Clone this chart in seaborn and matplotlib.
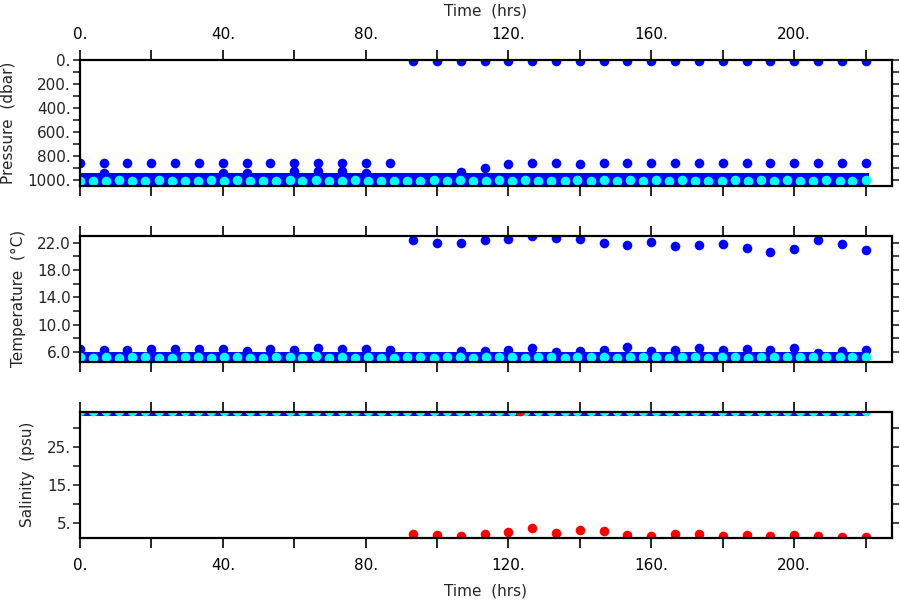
import numpy as np
import matplotlib
matplotlib.use("Agg")
import matplotlib.pyplot as plt
import seaborn as sns

# profile times (hrs), deep point of each cast
prof_t = [0, 6.7, 13.3, 20, 26.7, 33.3, 40, 46.7, 53.3, 60, 66.7, 73.3, 80, 86.7,
          93.3, 100, 106.7, 113.3, 120, 126.7, 133.3, 140, 146.7, 153.3, 160, 166.7,
          173.3, 180, 186.7, 193.3, 200, 206.7, 213.3, 220]
prof_pres = [862, 862, 862, 862, 862, 862, 862, 862, 862, 862, 862, 862, 862, 862,
             np.nan, np.nan, 931, 902, 867, 861, 858, 863, 862, 862, 862, 862,
             862, 862, 862, 862, 862, 862, 862, 862]
prof_temp = [6.4, 6.3, 6.3, 6.4, 6.5, 6.4, 6.5, 6.1, 6.4, 6.3, 6.6, 6.4, 6.5, 6.3,
             np.nan, np.nan, 6.1, 6.2, 6.3, 6.65, 6.0, 6.2, 6.35, 6.7, 6.15, 6.25,
             6.65, 6.3, 6.4, 6.25, 6.65, 5.9, 6.2, 6.25]

# second bump of the deep cluster
bump_t = [6.7, 40, 46.7, 60, 66.7, 73.3, 80]
bump_pres = [945, 945, 945, 925, 925, 925, 943]

# surface samples (second half of the record)
surf_t = [93.3, 100, 106.7, 113.3, 120, 126.7, 133.3, 140, 146.7, 153.3, 160, 166.7,
          173.3, 180, 186.7, 193.3, 200, 206.7, 213.3, 220]
surf_pres = [6, 6, 6, 6, 6, 6, 6, 6, 6, 6, 6, 6, 6, 6, 6, 6, 6, 6, 6, 6]
surf_temp = [22.4, 21.9, 21.9, 22.35, 22.45, 22.9, 22.6, 22.45, 21.95, 21.65, 22.15, 21.45,
             21.65, 21.8, 21.15, 20.65, 21.1, 22.35, 21.85, 20.85]
surf_sal = [2.1, 1.65, 1.4, 2.1, 2.6, 3.6, 2.2, 3.0, 2.7, 1.65, 1.5, 2.0,
            2.0, 1.5, 1.65, 1.4, 1.8, 1.5, 1.3, 1.1]
odd_t = [123.3]
odd_sal = [34.6]

# bottom samples
bot_t = [0, 3.7, 7.3, 11.0, 14.7, 18.3, 22.0, 25.7, 29.3, 33.0, 36.7, 40.3, 44.0, 47.7,
         51.3, 55.0, 58.7, 62.3, 66.0, 69.7, 73.3, 77.0, 80.7, 84.3, 88.0, 91.7, 95.3,
         99.0, 102.7, 106.3, 110.0, 113.7, 117.3, 121.0, 124.7, 128.3, 132.0, 135.7,
         139.3, 143.0, 146.7, 150.3, 154.0, 157.7, 161.3, 165.0, 168.7, 172.3, 176.0,
         179.7, 183.3, 187.0, 190.7, 194.3, 198.0, 201.7, 205.3, 209.0, 212.7, 216.3, 220.0]
bot_pres = [1010, 1007, 1012, 1002, 1010, 1007, 1002, 1005, 1012, 1005, 1002, 1008, 1004,
            1010, 1005, 1007, 1004, 1007, 1002, 1007, 1011, 1002, 1007, 1005, 1005, 1007,
            1010, 1004, 1008, 1003, 1005, 1008, 1003, 1007, 1003, 1009, 1005, 1007, 1003,
            1006, 1004, 1009, 1004, 1007, 1002, 1008, 1003, 1009, 1005, 1007, 1004, 1008,
            1004, 1007, 1002, 1009, 1005, 1003, 1008, 1005, 1004]
bot_temp = [5.25, 5.2, 5.35, 5.15, 5.3, 5.35, 5.2, 5.2, 5.3, 5.25, 5.2, 5.25, 5.25, 5.2,
            5.2, 5.35, 5.3, 5.15, 5.45, 5.15, 5.3, 5.2, 5.3, 5.2, 5.15, 5.35, 5.35, 5.2,
            5.25, 5.3, 5.2, 5.3, 5.25, 5.3, 5.2, 5.35, 5.3, 5.2, 5.3, 5.25, 5.3, 5.2,
            5.35, 5.25, 5.25, 5.2, 5.3, 5.3, 5.2, 5.3, 5.3, 5.2, 5.25, 5.3, 5.25, 5.3,
            5.25, 5.25, 5.3, 5.3, 5.25]
bot_sal = [34.7] * 61

# dense near-bottom cluster: time extent and top/bottom edge
band_t = [0, 221]
band_pres = [942, 1100]
band_temp = [2.0, 6.0]
band_sal = [33.2, 36.0]

sns.set_style("ticks")
plt.rcParams['font.family'] = ['DejaVu Sans']
plt.rcParams['font.size'] = 11

fig = plt.figure(figsize=(9, 6), dpi=100)
ax1 = fig.add_axes([80/900, 1-186/600, 812/900, 126/600])
ax2 = fig.add_axes([80/900, 1-361.7/600, 812/900, 126/600])
ax3 = fig.add_axes([80/900, 1-537.7/600, 812/900, 126/600])

blue = "#0000ff"
cyan = "#00ffff"
red = "#ff0000"
ms = 48

# pressure
ax1.fill_between(band_t, band_pres[0], band_pres[1], color=blue, lw=0)
sns.scatterplot(x=bump_t, y=bump_pres, color=blue, s=ms, linewidth=0, ax=ax1)
sns.scatterplot(x=prof_t, y=prof_pres, color=blue, s=ms, linewidth=0, ax=ax1)
sns.scatterplot(x=surf_t, y=surf_pres, color=blue, s=ms, linewidth=0, ax=ax1)
sns.scatterplot(x=bot_t, y=bot_pres, color=cyan, s=ms, linewidth=0, ax=ax1)
ax1.set_ylim(1050, 0)
ax1.set_yticks([0, 200, 400, 600, 800, 1000], ["0.", "200.", "400.", "600.", "800.", "1000."])
ax1.set_yticks([100, 300, 500, 700, 900], minor=True)
ax1.set_ylabel("Pressure  (dbar)")
ax1.yaxis.set_label_coords(-0.080, 0.5)

# temperature
ax2.fill_between(band_t, band_temp[0], band_temp[1], color=blue, lw=0)
sns.scatterplot(x=prof_t, y=prof_temp, color=blue, s=ms, linewidth=0, ax=ax2)
sns.scatterplot(x=surf_t, y=surf_temp, color=blue, s=ms, linewidth=0, ax=ax2)
sns.scatterplot(x=bot_t, y=bot_temp, color=cyan, s=ms, linewidth=0, ax=ax2)
ax2.set_ylim(4.6, 23.0)
ax2.set_yticks([6, 10, 14, 18, 22], ["6.0", "10.0", "14.0", "18.0", "22.0"])
ax2.set_yticks([8, 12, 16, 20], minor=True)
ax2.set_ylabel("Temperature  (\u00b0C)")
ax2.yaxis.set_label_coords(-0.066, 0.5)

# salinity
ax3.fill_between(band_t, band_sal[0], band_sal[1], color=blue, lw=0)
sns.scatterplot(x=bot_t, y=bot_sal, color=cyan, s=ms, linewidth=0, ax=ax3)
sns.scatterplot(x=surf_t, y=surf_sal, color=red, s=ms, linewidth=0, ax=ax3)
sns.scatterplot(x=odd_t, y=odd_sal, color=red, s=ms, linewidth=0, ax=ax3)
ax3.set_ylim(1.0, 34.4)
ax3.set_yticks([5, 15, 25], ["5.", "15.", "25."])
ax3.set_yticks([10, 20, 30], minor=True)
ax3.set_ylabel("Salinity  (psu)")
ax3.yaxis.set_label_coords(-0.056, 0.5)

for ax in (ax1, ax2, ax3):
    ax.set_xlim(0, 227.4)
    ax.set_xticks([0, 40, 80, 120, 160, 200], ["0.", "40.", "80.", "120.", "160.", "200."])
    ax.set_xticks([20, 60, 100, 140, 180, 220], minor=True)
    for s in ax.spines.values():
        s.set_visible(True)
        s.set_linewidth(1.6)
        s.set_color("black")
    ax.tick_params(axis="x", which="both", direction="out", length=7.5, width=1.2,
                   top=True, bottom=True, labeltop=False, labelbottom=False, colors="black")
    ax.tick_params(axis="y", which="both", direction="out", length=5, width=1.2,
                   left=True, right=True, labelleft=True, labelright=False, pad=1.5)
    ax.tick_params(labelsize=11)

ax1.tick_params(axis="x", labeltop=True, pad=5.5)
ax1.xaxis.set_label_position("top")
ax1.set_xlabel("Time  (hrs)", labelpad=8.5)
ax2.set_xlabel("")
ax3.tick_params(axis="x", labelbottom=True, pad=7)
ax3.set_xlabel("Time  (hrs)", labelpad=7.5)

fig.savefig("out.png", dpi=100)
